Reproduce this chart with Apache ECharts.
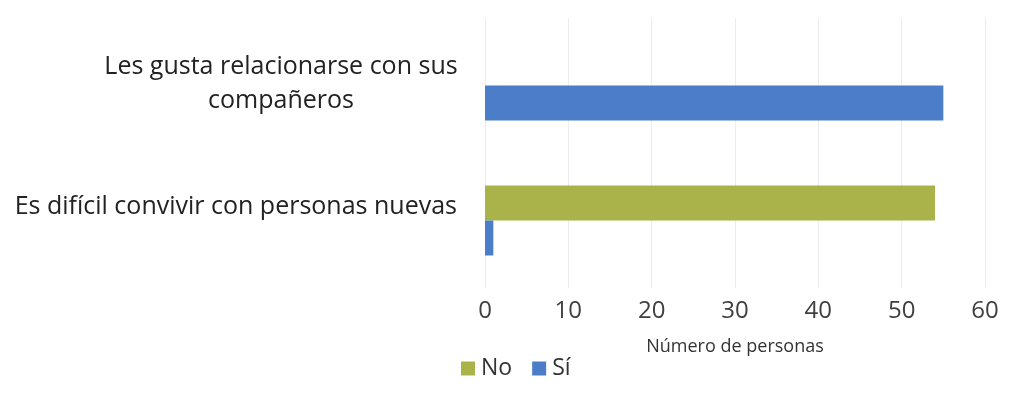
<!DOCTYPE html>
<html>
<head>
<meta charset="utf-8">
<script src="https://cdn.jsdelivr.net/npm/echarts@6/dist/echarts.min.js"></script>
<style>
  html, body { margin: 0; padding: 0; background: #ffffff; }
  #chart { width: 1016px; height: 397px; }
</style>
</head>
<body>
<div id="chart"></div>
<script>
// Survey answers per statement
const categories = ['Les gusta relacionarse con sus compañeros', 'Es difícil convivir con personas nuevas'];
const seriesNames = ['No', 'Sí'];
const noValues = [0, 54];
const siValues = [55, 1];
const axisTicks = [0, 10, 20, 30, 40, 50, 60];
const axisTitle = 'Número de personas';

const FONT = '"Open Sans"';
const LABEL_SIZE = 25;
const chart = echarts.init(document.getElementById('chart'));

chart.setOption({
  backgroundColor: '#ffffff',
  animation: false,
  textStyle: { fontFamily: FONT },
  grid: { left: 485, right: 31, top: 18, bottom: 109, containLabel: false },
  legend: {
    data: seriesNames,
    left: 456,
    top: 352,
    itemWidth: 14,
    itemHeight: 14,
    itemGap: 20,
    icon: 'rect',
    textStyle: { fontFamily: FONT, fontSize: 23, color: '#333333', padding: [0, 0, 0, 1] }
  },
  xAxis: {
    type: 'value',
    min: axisTicks[0],
    max: axisTicks[axisTicks.length - 1],
    interval: axisTicks[1] - axisTicks[0],
    name: axisTitle,
    nameLocation: 'middle',
    nameGap: 50,
    nameTextStyle: { fontFamily: FONT, fontSize: 18, color: '#333333' },
    axisLine: { show: false },
    axisTick: { show: false },
    axisLabel: { fontFamily: FONT, fontSize: 24, color: '#404040', margin: 11 },
    splitLine: { show: true, lineStyle: { color: '#ececec', width: 1 } }
  },
  yAxis: {
    type: 'category',
    inverse: true,
    data: categories,
    axisLine: { show: false },
    axisTick: { show: false },
    splitLine: { show: false },
    axisLabel: {
      margin: 28,
      fontFamily: FONT,
      fontSize: LABEL_SIZE,
      color: '#222222',
      formatter: function (v) {
        if (v === categories[0]) {
          return '{c|Les gusta relacionarse con sus}\n{e|compañeros}';
        }
        return '{s|' + v + '}';
      },
      rich: {
        c: { fontFamily: FONT, fontSize: LABEL_SIZE, color: '#222222', width: 352, align: 'center', lineHeight: 38 },
        e: { fontFamily: FONT, fontSize: LABEL_SIZE, color: '#222222', width: 352, align: 'center', lineHeight: 38, padding: [0, 0, 8, 0] },
        s: { fontFamily: FONT, fontSize: LABEL_SIZE, color: '#222222', lineHeight: 32, padding: [0, 0, 28, 0] }
      }
    }
  },
  series: [
    {
      name: seriesNames[0],
      type: 'bar',
      data: noValues,
      barWidth: 35,
      barGap: '0%',
      itemStyle: { color: '#a9b34a' }
    },
    {
      name: seriesNames[1],
      type: 'bar',
      data: siValues,
      barWidth: 35,
      barGap: '0%',
      itemStyle: { color: '#4b7dc8' }
    }
  ]
});
</script>
</body>
</html>
